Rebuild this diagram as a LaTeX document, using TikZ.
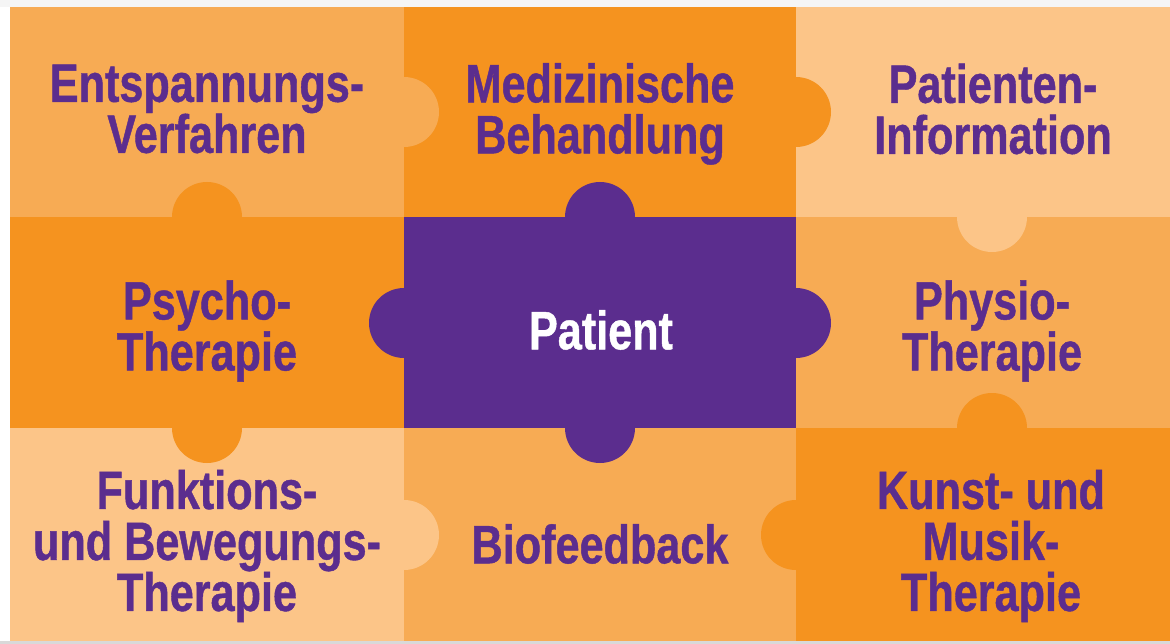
\documentclass[tikz,border=0pt]{standalone}
\usepackage{fontspec}
\usepackage[usenames]{xcolor}
\newfontfamily\piecefont[FakeStretch=0.8,FakeBold=0.8]{Liberation Sans}
\definecolor{pieceLight}{HTML}{FCC588}
\definecolor{pieceMid}{HTML}{F7AB54}
\definecolor{pieceDark}{HTML}{F5931F}
\definecolor{piecePurple}{HTML}{5B2D8E}

\begin{document}
\begin{tikzpicture}[x=1pt,y=-1pt,
    piecetext/.style={text=piecePurple,align=center,inner sep=0pt,
        font=\piecefont\bfseries\fontsize{54}{51}\selectfont}]
\useasboundingbox (0,0) rectangle (1170,644);
\fill[white] (0,0) rectangle (1170,644);
\fill[gray!8] (0,0) rectangle (1170,7);
\fill[gray!30] (0,641) rectangle (1170,644);

% the nine pieces
\fill[pieceMid]    (10,7)    rectangle (404,217);
\fill[pieceDark]   (404,7)   rectangle (796,217);
\fill[pieceLight]  (796,7)   rectangle (1170,217);
\fill[pieceDark]   (10,217)  rectangle (404,428);
\fill[piecePurple] (404,217) rectangle (796,428);
\fill[pieceMid]    (796,217) rectangle (1170,428);
\fill[pieceLight]  (10,428)  rectangle (404,641);
\fill[pieceMid]    (404,428) rectangle (796,641);
\fill[pieceDark]   (796,428) rectangle (1170,641);

% the tabs
\fill[pieceMid]    (404,112) circle[radius=35pt];
\fill[pieceDark]   (796,112) circle[radius=35pt];
\fill[pieceDark]   (207,217) circle[radius=35pt];
\fill[pieceLight]  (992,217) circle[radius=35pt];
\fill[piecePurple] (600,217) circle[radius=35pt];
\fill[piecePurple] (404,323) circle[radius=35pt];
\fill[piecePurple] (796,323) circle[radius=35pt];
\fill[piecePurple] (600,428) circle[radius=35pt];
\fill[pieceDark]   (207,428) circle[radius=35pt];
\fill[pieceDark]   (992,428) circle[radius=35pt];
\fill[pieceLight]  (404,535) circle[radius=35pt];
\fill[pieceDark]   (796,535) circle[radius=35pt];

% texts
\node[piecetext] (entspannung) at (207,109) {Entspannungs-\\Verfahren};
\node[piecetext] (medizin)     at (600,114) {Medizinische\\Behandlung};
\node[piecetext] (information) at (993,109) {Patienten-\\Information};
\node[piecetext] (psycho)      at (207,331) {Psycho-\\Therapie};
\node[piecetext,text=white] (patient) at (601,330) {Patient};
\node[piecetext] (physio)      at (992,331) {Physio-\\Therapie};
\node[piecetext] (funktion)    at (207,546) {Funktions-\\und Bewegungs-\\Therapie};
\node[piecetext] (biofeedback) at (600,544) {Biofeedback};
\node[piecetext] (kunst)       at (991,546) {Kunst- und\\Musik-\\Therapie};
\end{tikzpicture}
\end{document}
